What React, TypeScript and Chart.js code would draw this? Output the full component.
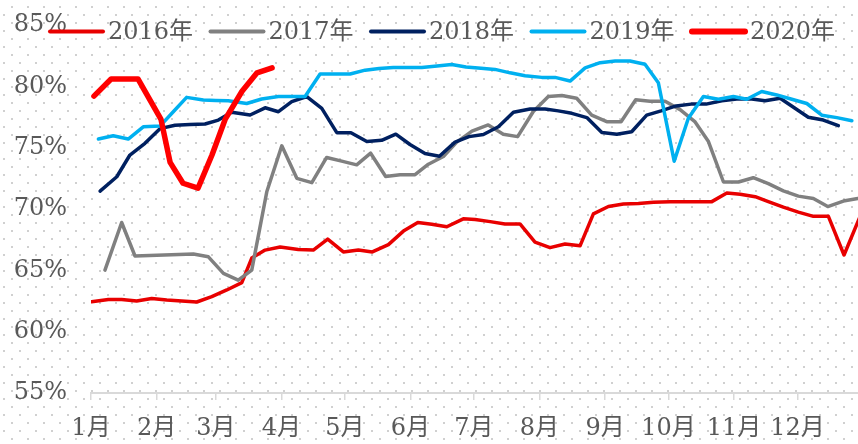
import React, { useEffect, useRef } from 'react';
import { Chart, registerables } from 'chart.js';

Chart.register(...registerables);

const FONT = '"DejaVu Serif", "Noto Sans CJK SC", serif';
const TEXT_COLOR = '#595959';

// x axis: day of year, month starts
const monthDays = [0, 31, 59, 90, 120, 151, 181, 212, 243, 273, 304, 334];
const monthLabels = ['1月', '2月', '3月', '4月', '5月', '6月', '7月', '8月', '9月', '10月', '11月', '12月'];

const seriesNames = ['2016年', '2017年', '2018年', '2019年', '2020年'];

const d2016 = [0.3, 8.2, 14.5, 21.6, 28.7, 35.8, 42.9, 50.0, 57.1, 64.2, 71.3, 76.0, 82.3, 89.4, 98.0, 105.1, 111.9, 119.3, 126.4, 133.0, 140.6, 147.7, 154.5, 161.1, 168.2, 176.0, 181.6, 188.7, 195.7, 202.8, 209.9, 217.0, 224.1, 231.2, 237.5, 244.6, 251.7, 258.8, 265.9, 273.8, 280.9, 288.0, 293.5, 300.6, 306.9, 314.0, 320.2, 327.3, 334.4, 341.5, 348.6, 356.0, 363.1];
const v2016 = [62.44, 62.63, 62.63, 62.5, 62.7, 62.58, 62.5, 62.42, 62.85, 63.4, 64.0, 66.0, 66.65, 66.9, 66.7, 66.65, 67.55, 66.5, 66.65, 66.5, 67.1, 68.2, 68.9, 68.75, 68.55, 69.2, 69.15, 68.97, 68.78, 68.78, 67.3, 66.85, 67.15, 67.0, 69.6, 70.2, 70.4, 70.45, 70.55, 70.6, 70.6, 70.6, 70.6, 71.3, 71.2, 71.0, 70.6, 70.15, 69.75, 69.4, 69.4, 66.25, 69.2];

const d2017 = [6.6, 14.5, 20.8, 48.4, 55.5, 62.6, 69.6, 76.0, 83.1, 90.2, 97.3, 104.4, 111.4, 118.5, 125.6, 132.2, 139.3, 146.1, 153.2, 159.5, 166.6, 172.9, 180.1, 187.8, 194.9, 201.7, 209.1, 216.2, 222.6, 229.6, 236.7, 243.8, 250.6, 257.5, 264.3, 271.4, 278.5, 285.6, 291.9, 299.0, 306.1, 313.1, 320.2, 327.3, 334.4, 341.5, 348.3, 355.7, 362.5];
const v2017 = [65.02, 68.9, 66.17, 66.33, 66.1, 64.75, 64.2, 65.02, 71.4, 75.15, 72.5, 72.15, 74.2, 73.9, 73.6, 74.55, 72.65, 72.8, 72.8, 73.65, 74.28, 75.45, 76.35, 76.85, 76.1, 75.9, 77.95, 79.17, 79.25, 79.03, 77.65, 77.12, 77.12, 78.9, 78.78, 78.78, 78.1, 77.1, 75.5, 72.2, 72.2, 72.55, 72.07, 71.48, 71.05, 70.85, 70.2, 70.65, 70.85];

const d2018 = [4.3, 12.2, 18.4, 25.5, 32.6, 39.7, 46.8, 53.9, 60.2, 66.5, 75.2, 82.3, 88.6, 94.9, 102.0, 109.1, 116.2, 122.9, 130.4, 137.4, 144.1, 150.8, 157.9, 164.7, 172.1, 178.7, 185.5, 192.6, 199.7, 207.6, 214.7, 220.9, 227.3, 234.4, 241.5, 248.6, 255.6, 262.7, 269.5, 276.6, 283.7, 290.8, 298.2, 305.3, 312.4, 318.7, 325.8, 332.1, 339.1, 346.2, 353.3];
const v2018 = [71.46, 72.63, 74.4, 75.35, 76.55, 76.83, 76.88, 76.93, 77.25, 77.88, 77.66, 78.25, 77.93, 78.75, 79.17, 78.2, 76.22, 76.22, 75.5, 75.6, 76.1, 75.26, 74.53, 74.3, 75.45, 75.9, 76.07, 76.7, 77.88, 78.15, 78.15, 78.0, 77.8, 77.45, 76.23, 76.1, 76.3, 77.65, 78.0, 78.4, 78.55, 78.55, 78.83, 78.97, 78.97, 78.83, 79.03, 78.3, 77.48, 77.25, 76.8];

const d2019 = [3.5, 10.5, 17.6, 24.7, 32.6, 38.9, 45.2, 53.1, 59.0, 64.9, 73.6, 80.7, 88.6, 94.6, 101.2, 108.3, 115.4, 122.5, 129.6, 136.2, 142.9, 149.4, 156.4, 163.6, 170.5, 177.3, 184.4, 191.0, 198.1, 205.2, 213.1, 219.4, 226.5, 233.6, 240.7, 247.8, 254.8, 261.9, 268.2, 275.7, 282.4, 289.5, 296.6, 303.7, 310.0, 317.1, 324.2, 331.3, 338.4, 345.5, 352.6, 359.7];
const v2019 = [75.7, 75.97, 75.7, 76.7, 76.76, 77.93, 79.1, 78.88, 78.85, 78.83, 78.6, 78.97, 79.17, 79.17, 79.17, 81.0, 81.0, 81.0, 81.32, 81.45, 81.54, 81.54, 81.54, 81.65, 81.78, 81.58, 81.48, 81.38, 81.1, 80.87, 80.73, 80.73, 80.43, 81.5, 81.93, 82.07, 82.07, 81.8, 80.3, 73.9, 77.4, 79.17, 78.95, 79.17, 78.95, 79.58, 79.3, 78.95, 78.6, 77.65, 77.45, 77.2];

const d2020 = [1.4, 9.5, 15.6, 22.2, 33.1, 37.4, 43.5, 50.6, 57.2, 63.4, 71.4, 78.5, 85.6];
const v2020 = [79.2, 80.6, 80.6, 80.6, 77.3, 73.8, 72.1, 71.7, 74.4, 77.3, 79.6, 81.1, 81.5];

const seriesDays = [d2016, d2017, d2018, d2019, d2020];
const seriesValues = [v2016, v2017, v2018, v2019, v2020];
const seriesColors = ['#E80000', '#808080', '#002060', '#00B0F0', '#FF0000'];
const seriesWidths = [3.5, 3.5, 3.5, 3.5, 5.5];
const legendWidths = [4, 4, 4, 4, 6];

const Y_MIN = 55;
const Y_MAX = 85;
const X_MAX = 362.6;

const backgroundPlugin = {
  id: 'dotBackground',
  beforeDraw(chart: any) {
    const ctx = chart.ctx as CanvasRenderingContext2D;
    const w = chart.width;
    const h = chart.height;
    ctx.save();
    ctx.fillStyle = '#ffffff';
    ctx.fillRect(0, 0, w, h);
    ctx.fillStyle = '#d0d0d0';
    for (let k = 0; 6 + 8 * k < h; k++) {
      const y = 6 + 8 * k;
      const off = k % 2 === 1 ? 3 : 11;
      for (let x = off; x < w; x += 16) {
        ctx.fillRect(x, y, 2, 2);
      }
    }
    ctx.restore();
  },
};

const legendPlugin = {
  id: 'customLegend',
  afterDraw(chart: any) {
    const ctx = chart.ctx as CanvasRenderingContext2D;
    ctx.save();
    ctx.font = `24px ${FONT}`;
    ctx.textBaseline = 'middle';
    ctx.textAlign = 'left';
    const y = 31.5;
    seriesNames.forEach((name, i) => {
      const x0 = 50 + i * 160.5;
      ctx.strokeStyle = seriesColors[i];
      ctx.lineWidth = legendWidths[i];
      ctx.lineCap = 'round';
      ctx.beginPath();
      ctx.moveTo(x0, y);
      ctx.lineTo(x0 + 53, y);
      ctx.stroke();
      ctx.fillStyle = TEXT_COLOR;
      ctx.fillText(name, x0 + 58, y + 1);
    });
    ctx.restore();
  },
};

export default function App() {
  const canvasRef = useRef<HTMLCanvasElement | null>(null);

  useEffect(() => {
    if (!canvasRef.current) return;
    const datasets = seriesNames.map((name, i) => ({
      label: name,
      data: seriesDays[i].map((d, j) => ({ x: d, y: seriesValues[i][j] })),
      borderColor: seriesColors[i],
      backgroundColor: seriesColors[i],
      borderWidth: seriesWidths[i],
      pointRadius: 0,
      pointHoverRadius: 0,
      tension: 0,
      fill: false,
      borderJoinStyle: 'round' as const,
      borderCapStyle: 'round' as const,
      order: 5 - i,
    }));

    const chart = new Chart(canvasRef.current, {
      type: 'line',
      data: { datasets },
      options: {
        responsive: false,
        animation: false,
        layout: { padding: { top: 25, right: 0, left: 0, bottom: 0 } },
        plugins: {
          legend: { display: false },
          tooltip: { enabled: false },
        },
        scales: {
          x: {
            type: 'linear',
            min: 0,
            max: X_MAX,
            afterBuildTicks: (scale: any) => {
              scale.ticks = monthDays.map((v) => ({ value: v }));
            },
            afterFit: (scale: any) => {
              scale.height = 51;
              scale.paddingLeft = 0;
              scale.paddingRight = 0;
            },
            ticks: {
              autoSkip: false,
              maxRotation: 0,
              minRotation: 0,
              padding: 14,
              color: TEXT_COLOR,
              font: { family: FONT, size: 24 },
              callback: (_v: any, index: number) => monthLabels[index],
            },
            grid: {
              drawOnChartArea: false,
              drawTicks: true,
              tickLength: 7,
              color: '#d9d9d9',
              lineWidth: 1.5,
            },
            border: { display: true, color: '#d9d9d9', width: 2 },
          },
          y: {
            min: Y_MIN,
            max: Y_MAX,
            afterFit: (scale: any) => {
              scale.width = 91;
              scale.paddingTop = 0;
              scale.paddingBottom = 0;
            },
            ticks: {
              stepSize: 5,
              padding: 24,
              color: TEXT_COLOR,
              font: { family: FONT, size: 24 },
              callback: (v: any) => `${v}%`,
            },
            grid: { display: false, drawTicks: false },
            border: { display: false },
          },
        },
      },
      plugins: [backgroundPlugin, legendPlugin],
    });
    return () => chart.destroy();
  }, []);

  return (
    <div style={{ position: 'absolute', left: 0, top: 0, width: 858, height: 444 }}>
      <canvas ref={canvasRef} width={858} height={444} style={{ display: 'block' }} />
    </div>
  );
}
